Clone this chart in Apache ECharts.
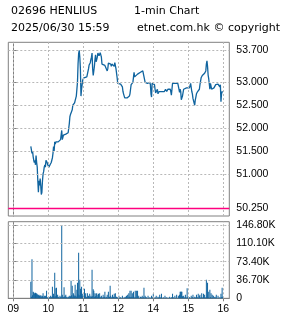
<!DOCTYPE html>
<html><head><meta charset="utf-8">
<script src="https://cdn.jsdelivr.net/npm/echarts@6/dist/echarts.min.js"></script>
<style>html,body{margin:0;padding:0;background:#fff}#c{width:285px;height:318px}</style>
</head><body><div id="c"></div>
<script>
// ---- data ----
const titleLeft = '02696 HENLIUS';
const titleRight = '1-min Chart';
const dateText = '2025/06/30 15:59';
const copyrightText = 'etnet.com.hk \u00a9 copyright';
const prevClose = 50.25;
const morningStart = 30;    // 09:30 = minutes after 09:00
const afternoonStart = 180; // 13:00 on the lunch-compressed scale
const hourTicks = [0, 60, 120, 180, 240, 300, 360];
const hourLabels = ['09', '10', '11', '12', '14', '15', '16'];
const priceTicks = [50.25, 51.0, 51.5, 52.0, 52.5, 53.0, 53.7];
const volumeTicks = [0, 36700, 73400, 110100, 146800];

// 09:30 .. 11:59
const morningPrices = [
51.60,51.60,51.45,51.50,51.38,51.30,51.25,51.30,51.20,51.40,
51.25,51.15,50.85,50.60,50.85,50.75,50.90,50.75,50.55,50.60,
50.85,51.00,51.05,51.15,51.20,51.15,51.30,51.30,51.25,51.20,
51.20,51.15,51.15,51.20,51.20,51.25,51.30,51.35,51.45,51.60,
51.50,51.70,51.65,51.70,51.68,51.70,51.70,51.70,51.72,51.70,
51.72,51.75,51.78,51.95,51.75,51.80,51.85,51.87,51.87,51.85,
51.87,51.87,51.85,51.87,51.90,51.93,52.10,52.25,52.30,52.33,
52.30,52.40,52.50,52.52,52.50,52.55,52.60,52.65,52.70,52.85,
53.00,53.40,53.63,53.70,53.55,53.30,52.70,52.85,52.95,53.05,
53.05,53.10,53.10,53.12,53.10,53.10,53.12,53.10,53.15,53.30,
53.38,53.35,53.43,53.50,53.55,53.64,53.30,53.15,53.25,53.35,
53.50,53.60,53.45,53.50,53.55,53.64,53.60,53.58,53.62,53.65,
53.65,53.55,53.40,53.37,53.37,53.37,53.37,53.37,53.37,53.37,
53.37,53.25,53.30,53.42,53.40,53.40,53.45,53.40,53.35,53.40,
53.43,53.40,53.40,53.35,53.43,53.40,53.30,53.32,53.10,52.98
];
// 13:00 .. 15:59
const afternoonPrices = [
52.98,53.00,52.98,52.98,52.96,52.96,52.95,52.90,52.80,52.75,
52.72,52.66,52.66,52.66,52.66,52.66,52.66,52.66,52.68,52.70,
52.75,52.85,52.95,52.95,52.98,53.00,53.00,53.22,53.12,53.08,
53.08,53.10,53.10,53.18,53.15,53.20,53.22,53.22,53.22,53.22,
53.22,53.22,53.25,53.29,53.29,53.23,53.00,52.98,52.98,53.00,
52.98,53.00,53.00,52.98,53.00,52.95,52.75,52.68,52.98,52.98,
52.98,52.98,52.95,52.85,52.77,52.80,52.75,52.85,52.75,52.78,
52.80,52.78,52.82,52.80,52.80,52.80,52.78,52.80,52.82,52.80,
52.82,52.85,52.82,52.80,52.82,52.85,52.85,52.83,52.84,52.85,
52.80,52.72,52.85,52.98,53.00,53.00,53.00,53.00,52.98,53.00,
53.00,53.00,52.98,52.98,52.85,52.78,52.85,52.80,52.62,52.60,
52.70,52.72,52.85,52.85,52.82,52.85,52.85,52.88,52.90,52.88,
52.85,52.85,52.88,52.92,52.98,52.98,52.80,52.75,52.65,52.62,
52.55,52.50,52.62,52.68,52.75,52.77,52.80,52.83,52.83,52.85,
52.95,52.98,53.10,53.10,53.15,53.17,53.17,53.15,53.20,53.20,
53.25,53.40,53.47,53.35,53.16,53.08,53.05,52.85,52.98,52.95,
52.85,52.85,52.85,52.85,52.88,52.92,52.92,52.95,52.95,52.96,
52.95,52.96,52.96,52.95,52.90,52.95,52.58,52.75,52.80,52.78
];
// volumes in thousands of shares
const morningVolumesK = [
33,3,78,6,13,12,10,9,11,8,
10,8,7,6,7,5,4,6,3,5,
4,10,2,5,4,5,2,15,1,2,
1,3,2,1,5,2,3,23,4,9,
3,51,4,20,21,3,7,2,3,1,
5,2,3,147,7,3,2,22,3,5,
7,2,3,1,2,3,5,2,4,35,
6,25,3,10,7,4,27,5,3,17,
31,8,91,6,37,19,15,23,4,9,
5,3,19,4,10,2,3,10,2,5,
3,9,2,5,3,57,4,18,15,3,
10,4,9,10,3,7,9,2,10,3,
1,5,2,1,7,2,3,13,1,3,
2,7,1,13,2,3,25,5,2,1,
7,2,3,9,2,10,1,3,2,1
];
const afternoonVolumesK = [
2,5,1,1,2,1,0,5,1,0,
2,1,3,1,5,1,7,2,10,3,
15,2,15,3,10,2,13,3,1,15,
2,15,1,15,2,5,1,0,3,1,
2,5,1,2,21,1,5,2,2,1,
0,5,1,0,2,1,0,5,1,2,
9,1,0,2,1,5,0,1,3,1,
2,7,1,2,9,1,0,2,1,0,
5,1,0,2,1,0,1,0,3,1,
0,2,1,9,1,2,0,5,1,0,
7,1,0,5,2,7,13,13,13,13,
4,1,5,2,1,7,2,1,20,2,
3,1,2,1,0,5,1,2,7,1,
0,3,1,2,7,1,2,9,1,5,
7,1,2,10,1,2,9,1,7,2,
1,37,3,31,2,13,1,17,2,10,
1,7,1,5,0,2,3,1,7,1,
0,5,1,0,2,1,9,2,21,3
];

// ---- build series data through the axes ----
const priceData = morningPrices.map((p, i) => [morningStart + i, p])
  .concat(afternoonPrices.map((p, i) => [afternoonStart + i, p]));
const volumeData = morningVolumesK.map((v, i) => [morningStart + i, v * 1000])
  .concat(afternoonVolumesK.map((v, i) => [afternoonStart + i, v * 1000]));

const FONT = 'Liberation Sans';
const BLUE = '#10649f';
const GRID = '#b8b8b8';
const BORDER = '#808080';

const gridLineStyle = { color: GRID, width: 1, type: [2, 2] };
const hourLabel = v => { const i = hourTicks.indexOf(v); return i >= 0 ? hourLabels[i] : ''; };

const chart = echarts.init(document.getElementById('c'), null, { renderer: 'canvas' });
chart.setOption({
  animation: false,
  backgroundColor: '#fff',
  graphic: [
    { type: 'text', left: 11, top: 6, style: { text: titleLeft, font: '11px "DejaVu Sans"', fill: '#000' } },
    { type: 'text', left: 134, top: 6, style: { text: titleRight, font: '11px "DejaVu Sans"', fill: '#000' } },
    { type: 'text', left: 11, top: 23, style: { text: dateText, font: '11px "DejaVu Sans"', fill: '#000' } },
    { type: 'text', left: 137, top: 23, style: { text: copyrightText, font: '11px "DejaVu Sans"', fill: '#000' } }
  ],
  grid: [
    { left: 8.3, right: 55.7, top: 42.3, height: 173.7, show: true, borderColor: BORDER, borderWidth: 1, backgroundColor: 'transparent' },
    { left: 8.3, right: 55.7, top: 221.7, height: 76.6, show: true, borderColor: BORDER, borderWidth: 1, backgroundColor: 'transparent' }
  ],
  xAxis: [
    { type: 'value', gridIndex: 0, min: -8.6, max: 370.3, axisLine: { show: false }, axisTick: { show: false }, axisLabel: { show: false }, splitLine: { show: false } },
    { type: 'value', gridIndex: 1, min: -8.6, max: 370.3,
      axisLine: { show: true, lineStyle: { color: BORDER } },
      axisTick: { show: true, length: 3, customValues: hourTicks, lineStyle: { color: BORDER } },
      axisLabel: { show: true, customValues: hourTicks, formatter: hourLabel, margin: 5, fontFamily: FONT, fontSize: 10.5, color: '#000' },
      splitLine: { show: false } }
  ],
  yAxis: [
    { type: 'value', gridIndex: 0, position: 'right', min: 50.082, max: 53.875,
      axisLine: { show: true, lineStyle: { color: BORDER } },
      axisTick: { show: true, length: 4, customValues: priceTicks, lineStyle: { color: BORDER } },
      axisLabel: { show: true, customValues: priceTicks, formatter: v => v.toFixed(3), margin: 7, fontFamily: FONT, fontSize: 10.5, color: '#000' },
      splitLine: { show: false } },
    { type: 'value', gridIndex: 1, position: 'right', min: 0, max: 153400,
      axisLine: { show: true, lineStyle: { color: BORDER } },
      axisTick: { show: true, length: 4, customValues: volumeTicks, lineStyle: { color: BORDER } },
      axisLabel: { show: true, customValues: volumeTicks, formatter: v => v === 0 ? '0' : (v / 1000).toFixed(2) + 'K', margin: 7, fontFamily: FONT, fontSize: 10.5, color: '#000' },
      splitLine: { show: false } }
  ],
  series: [
    { type: 'line', xAxisIndex: 0, yAxisIndex: 0, data: [], z: 1, silent: true,
      markLine: { silent: true, symbol: ['none', 'none'], label: { show: false }, lineStyle: gridLineStyle, animation: false,
        data: hourTicks.map(v => ({ xAxis: v })).concat(priceTicks.filter(v => v !== prevClose).map(v => ({ yAxis: v }))) } },
    { type: 'line', xAxisIndex: 1, yAxisIndex: 1, data: [], z: 1, silent: true,
      markLine: { silent: true, symbol: ['none', 'none'], label: { show: false }, lineStyle: gridLineStyle, animation: false,
        data: hourTicks.map(v => ({ xAxis: v })).concat(volumeTicks.filter(v => v !== 0).map(v => ({ yAxis: v }))) } },
    { type: 'line', xAxisIndex: 0, yAxisIndex: 0, data: priceData, z: 3, showSymbol: false, symbol: 'none',
      lineStyle: { color: BLUE, width: 1.3 },
      markLine: { silent: true, symbol: ['none', 'none'], label: { show: false }, animation: false,
        lineStyle: { color: '#ff007f', width: 1.3, type: 'solid' }, data: [{ yAxis: prevClose }] } },
    { type: 'bar', xAxisIndex: 1, yAxisIndex: 1, data: volumeData, z: 3, barWidth: 1, itemStyle: { color: BLUE } }
  ]
});
</script>
</body></html>
